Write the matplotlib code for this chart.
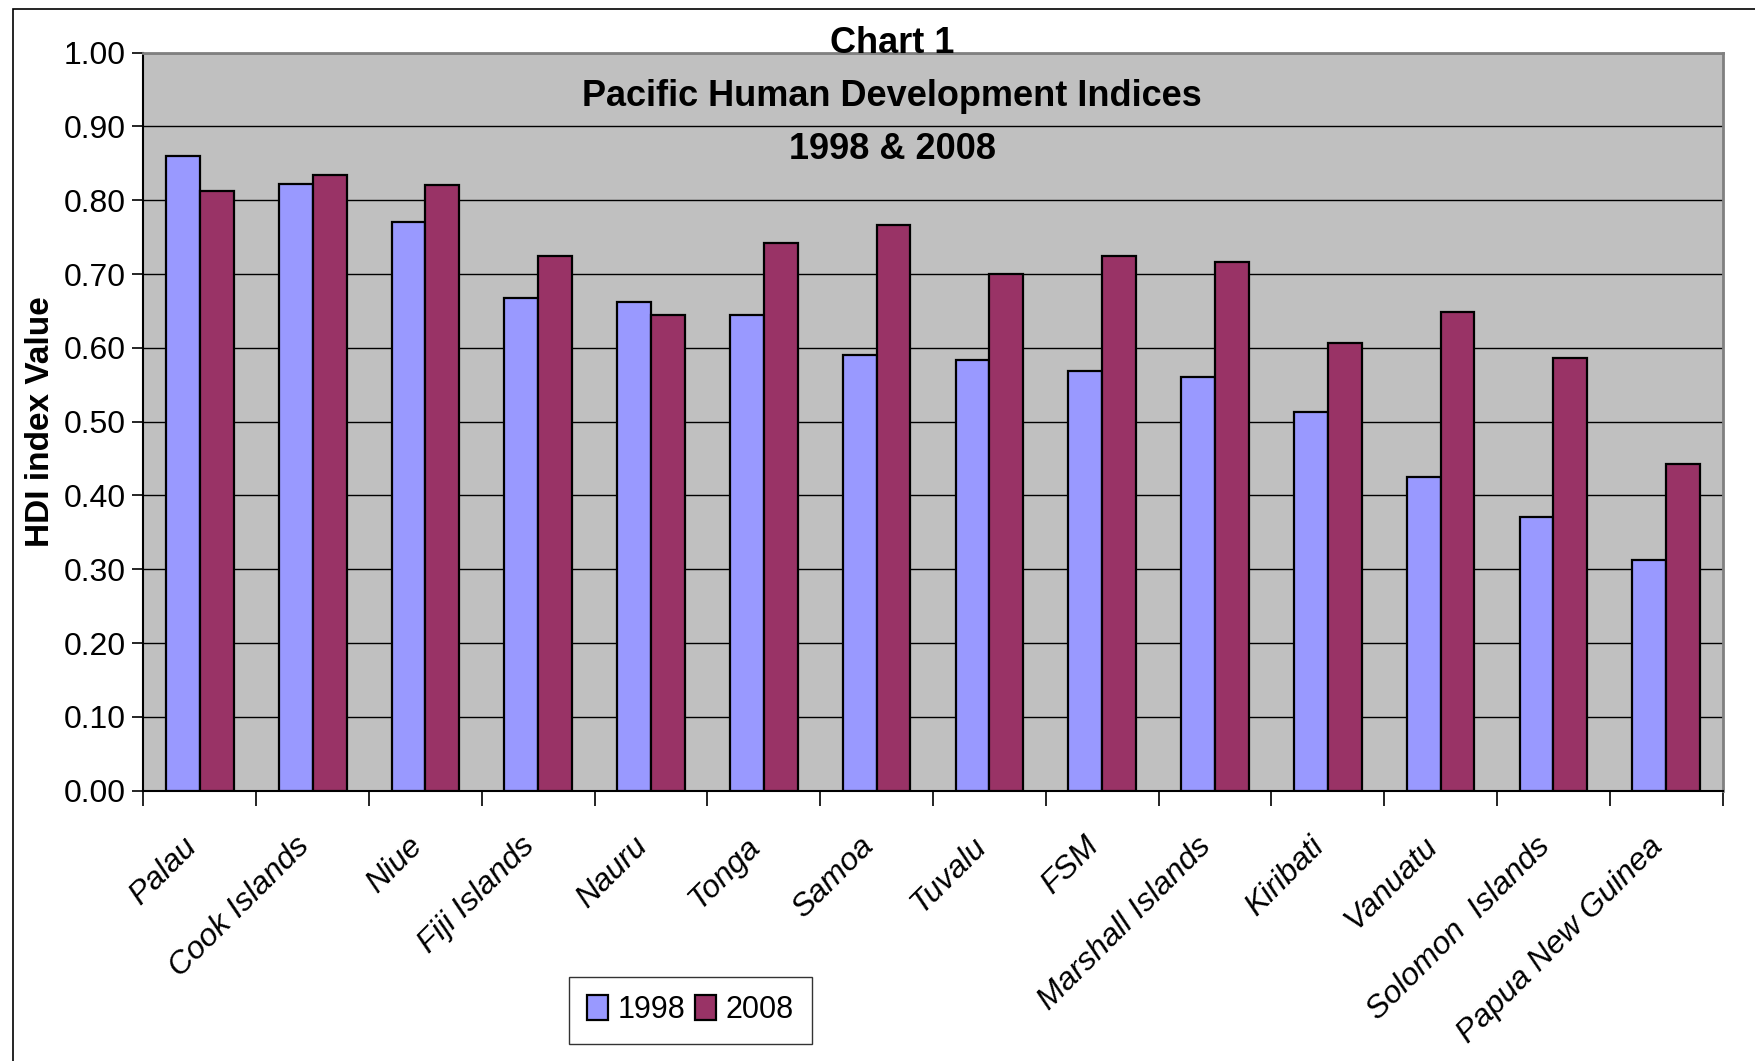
import matplotlib.pyplot as plt
from matplotlib.patches import Rectangle
from matplotlib.transforms import ScaledTranslation
import numpy as np

countries=['Palau','Cook Islands','Niue','Fiji Islands','Nauru','Tonga','Samoa',
           'Tuvalu','FSM','Marshall Islands','Kiribati','Vanuatu',
           'Solomon  Islands','Papua New Guinea']
hdi_1998=[0.860,0.822,0.771,0.667,0.662,0.644,0.590,0.583,0.569,0.560,0.513,0.425,0.371,0.312]
hdi_2008=[0.813,0.834,0.821,0.724,0.645,0.742,0.766,0.700,0.724,0.716,0.606,0.648,0.586,0.442]
yticks=np.arange(0,1.01,0.1)

arial=['Liberation Sans','DejaVu Sans']

fig=plt.figure(figsize=(17.56,10.61),dpi=100)
ax=fig.add_axes([0.0817,0.2548,0.8993,0.6956])
ax.set_facecolor('#C0C0C0')

x=np.arange(len(countries))
w=0.3
ax.bar(x-w/2,hdi_1998,w,color='#9999FF',edgecolor='black',linewidth=1.6,label='1998',zorder=3)
ax.bar(x+w/2,hdi_2008,w,color='#993366',edgecolor='black',linewidth=1.6,label='2008',zorder=3)

ax.set_xlim(-0.5,len(countries)-0.5)
ax.set_ylim(0,1.0)
ax.set_yticks(yticks)
ax.set_yticklabels(['%.2f'%v for v in yticks],family=arial,fontsize=23)
ax.yaxis.grid(True,color='black',linewidth=1.0,zorder=1)
ax.tick_params(axis='y',length=8,width=1.2,pad=5)

ax.set_xticks(x)
ax.set_xticklabels(countries,rotation=45,ha='right',va='center',
                   rotation_mode='anchor',family=arial,style='italic',fontsize=23)
ax.tick_params(axis='x',which='major',length=0,pad=37)
shift=ScaledTranslation(-8/100,0,fig.dpi_scale_trans)
for lab in ax.get_xticklabels():
    lab.set_transform(lab.get_transform()+shift)
ax.set_xticks(np.arange(-0.5,len(countries)),minor=True)
ax.tick_params(axis='x',which='minor',length=11,width=1.2)

for s in ['left','bottom']:
    ax.spines[s].set_color('black')
    ax.spines[s].set_linewidth(1.5)
for s in ['top','right']:
    ax.spines[s].set_color('#808080')
    ax.spines[s].set_linewidth(2)

ax.set_ylabel('HDI index Value',family=arial,fontweight='bold',fontsize=24)
ax.yaxis.set_label_coords(-0.0555,0.5)

fig.text(0.508,0.959,'Chart 1',ha='center',va='center',family=arial,fontweight='bold',fontsize=26)
fig.text(0.508,0.909,'Pacific Human Development Indices',ha='center',va='center',family=arial,fontweight='bold',fontsize=26)
fig.text(0.508,0.859,'1998 & 2008',ha='center',va='center',family=arial,fontweight='bold',fontsize=26)

leg=ax.legend(loc='center',bbox_to_anchor=(0.393,0.048),bbox_transform=fig.transFigure,
              ncol=2,frameon=True,fancybox=False,edgecolor='black',
              prop={'family':arial,'size':22},handlelength=0.7,handleheight=0.9,
              handletextpad=0.3,columnspacing=0.3,borderpad=0.6)
leg.get_frame().set_linewidth(1.0)

fig.patches.append(Rectangle((13/1756,-0.05),1.1,1.05-9/1061,transform=fig.transFigure,
                             fill=False,edgecolor='black',linewidth=1.2,figure=fig))

fig.savefig('out.png',dpi=100)
